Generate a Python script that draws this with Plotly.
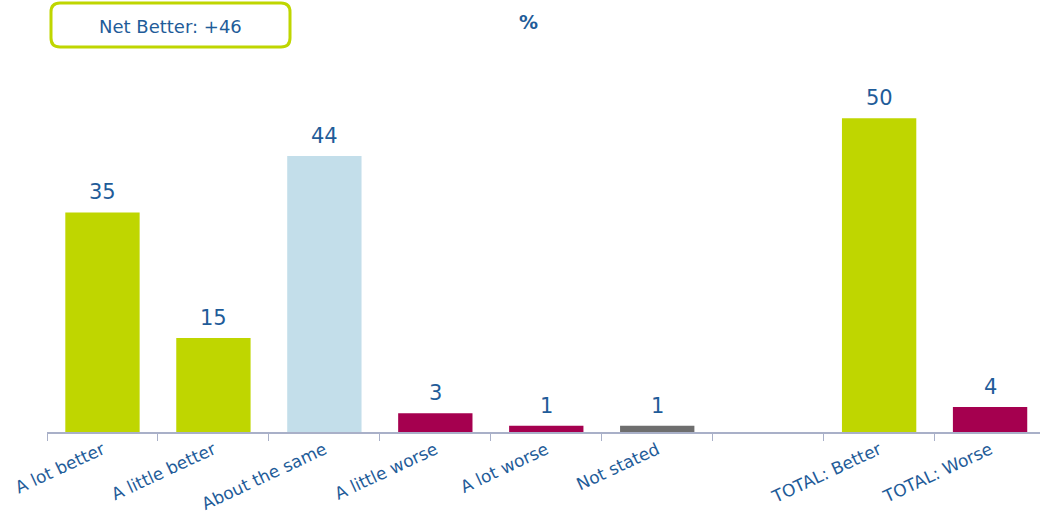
import plotly.graph_objects as go

categories = ["A lot better", "A little better", "About the same", "A little worse",
              "A lot worse", "Not stated", " ", "TOTAL: Better", "TOTAL: Worse"]
values = [35, 15, 44, 3, 1, 1, None, 50, 4]
bar_colors = ["#BFD600", "#BFD600", "#C3DEEA", "#A5004F", "#A5004F", "#6E6E6E",
              "#FFFFFF", "#BFD600", "#A5004F"]
net_label = "Net Better: +46"
unit_label = "%"

BLUE = "#1F5C99"
FONT = "DejaVu Sans"

W, H = 1040, 519
L, R, T = 47, 0, 87
B = H - 432
pw, ph = W - L - R, H - T - B

fig = go.Figure()
fig.add_trace(go.Bar(
    x=categories, y=values,
    marker=dict(color=bar_colors, line=dict(width=0)),
    width=0.67,
    cliponaxis=False, hoverinfo="skip",
))

for c, v in zip(categories, values):
    if v is None:
        continue
    fig.add_annotation(x=c, y=v, text=str(v), showarrow=False,
                       yanchor="bottom", yshift=6,
                       font=dict(family=FONT, size=21, color=BLUE))

def px(x):
    return (x - L) / pw

def py(y):
    return (H - B - y) / ph

# rounded rectangle for the "Net Better" box
x0, x1, y0, y1 = 51, 290, 3, 47
r = 9
path = (f"M {px(x0 + r)},{py(y0)} L {px(x1 - r)},{py(y0)} "
        f"Q {px(x1)},{py(y0)} {px(x1)},{py(y0 + r)} L {px(x1)},{py(y1 - r)} "
        f"Q {px(x1)},{py(y1)} {px(x1 - r)},{py(y1)} L {px(x0 + r)},{py(y1)} "
        f"Q {px(x0)},{py(y1)} {px(x0)},{py(y1 - r)} L {px(x0)},{py(y0 + r)} "
        f"Q {px(x0)},{py(y0)} {px(x0 + r)},{py(y0)} Z")
fig.add_shape(type="path", path=path, xref="paper", yref="paper",
              line=dict(color="#BFD600", width=3), fillcolor="white")

fig.add_annotation(text=net_label, x=px(170), y=py(26), xref="paper", yref="paper",
                   showarrow=False, font=dict(family=FONT, size=18, color=BLUE),
                   xanchor="center", yanchor="middle")
fig.add_annotation(text=f"<b>{unit_label}</b>", x=px(528), y=py(22), xref="paper", yref="paper",
                   showarrow=False, font=dict(family=FONT, size=19, color=BLUE),
                   xanchor="center", yanchor="middle")

fig.update_layout(
    width=W, height=H,
    margin=dict(l=L, r=R, t=T, b=B),
    plot_bgcolor="white", paper_bgcolor="white",
    showlegend=False,
    xaxis=dict(
        type="category", range=[-0.5, 8.45],
        showline=True, linecolor="#A9B0C8", linewidth=1.5,
        ticks="outside", tickson="boundaries", ticklen=7, tickcolor="#A9B0C8",
        tickangle=-25, tickfont=dict(family=FONT, size=17, color=BLUE),
        showgrid=False, fixedrange=True,
    ),
    yaxis=dict(range=[0, 55], visible=False, showgrid=False, zeroline=False),
)

fig.write_html(
    "out.html",
    config={"displayModeBar": False, "staticPlot": True},
    post_script="document.body.style.margin='0';document.body.style.overflow='hidden';",
)
